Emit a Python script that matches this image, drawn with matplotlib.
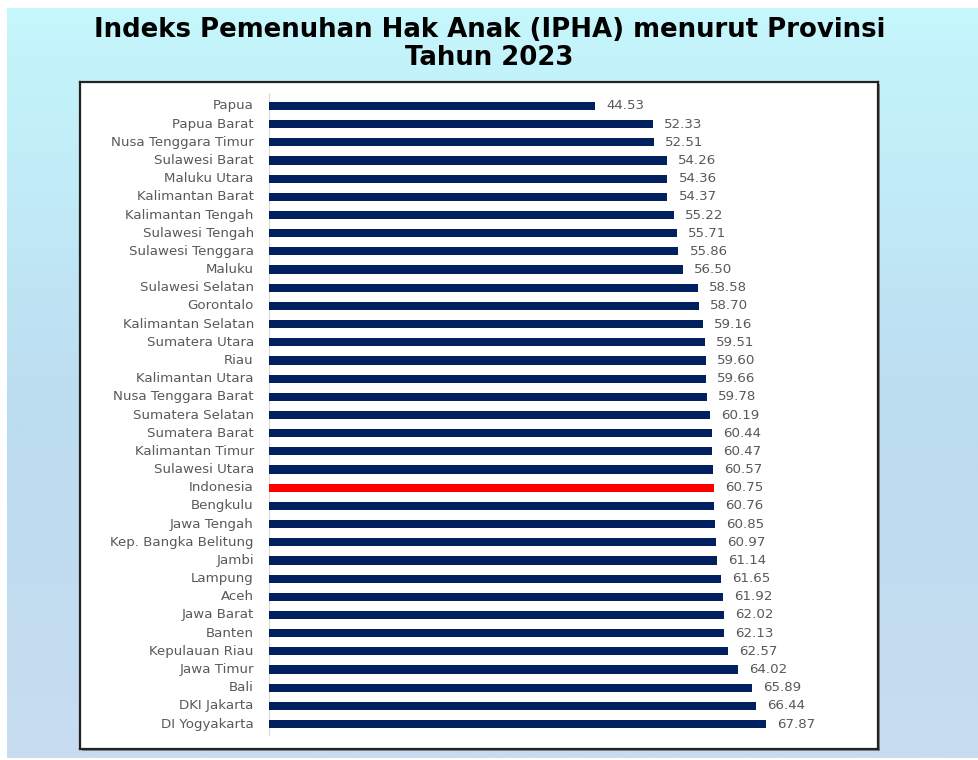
import numpy as np
import matplotlib
matplotlib.use("Agg")
import matplotlib.pyplot as plt
from matplotlib.patches import Rectangle

provinces = ["Papua", "Papua Barat", "Nusa Tenggara Timur", "Sulawesi Barat", "Maluku Utara",
             "Kalimantan Barat", "Kalimantan Tengah", "Sulawesi Tengah", "Sulawesi Tenggara", "Maluku",
             "Sulawesi Selatan", "Gorontalo", "Kalimantan Selatan", "Sumatera Utara", "Riau",
             "Kalimantan Utara", "Nusa Tenggara Barat", "Sumatera Selatan", "Sumatera Barat",
             "Kalimantan Timur", "Sulawesi Utara", "Indonesia", "Bengkulu", "Jawa Tengah",
             "Kep. Bangka Belitung", "Jambi", "Lampung", "Aceh", "Jawa Barat", "Banten",
             "Kepulauan Riau", "Jawa Timur", "Bali", "DKI Jakarta", "DI Yogyakarta"]
values = [44.53, 52.33, 52.51, 54.26, 54.36, 54.37, 55.22, 55.71, 55.86, 56.50,
          58.58, 58.70, 59.16, 59.51, 59.60, 59.66, 59.78, 60.19, 60.44, 60.47,
          60.57, 60.75, 60.76, 60.85, 60.97, 61.14, 61.65, 61.92, 62.02, 62.13,
          62.57, 64.02, 65.89, 66.44, 67.87]
title_lines = ["Indeks Pemenuhan Hak Anak (IPHA) menurut Provinsi", "Tahun 2023"]

W, H = 979, 760
fig = plt.figure(figsize=(W / 100, H / 100), dpi=100)
fig.patch.set_facecolor("white")

# gradient background (full-figure axes, bottom layer)
bg = fig.add_axes([0, 0, 1, 1], zorder=-5)
bg.set_axis_off()
top = np.array([197, 247, 252]) / 255
mid = np.array([188, 220, 240]) / 255
bot = np.array([200, 220, 240]) / 255
t = np.linspace(0, 1, 256)[:, None]
grad = np.where(t < 0.55, top + (mid - top) * (t / 0.55), mid + (bot - mid) * ((t - 0.55) / 0.45))
bg.imshow(grad[:, None, :], aspect="auto", extent=[7, W, 758, 8], origin="upper")
bg.set_xlim(0, W); bg.set_ylim(H, 0)

# box geometry (pixels)
ax_l, ax_r, ax_t, ax_b = 80, 878, 82, 749
# shadow of the chart box
bg.add_patch(Rectangle((ax_l + 2, ax_t + 2), ax_r - ax_l, ax_b - ax_t,
                       facecolor="#8c8c8c", edgecolor="none", zorder=3))

# title
fig.text(0.5, 1 - 30 / H, title_lines[0], ha="center", va="center",
         fontsize=18.7, fontweight="bold", family="DejaVu Sans", color="black")
fig.text(0.5, 1 - 58 / H, title_lines[1], ha="center", va="center",
         fontsize=18.7, fontweight="bold", family="DejaVu Sans", color="black")

ax = fig.add_axes([ax_l / W, 1 - ax_b / H, (ax_r - ax_l) / W, (ax_b - ax_t) / H], zorder=1)
ax.set_facecolor("white")
for s in ax.spines.values():
    s.set_color("#222222")
    s.set_linewidth(1.6)
ax.set_xticks([]); ax.set_yticks([])

y = np.arange(len(provinces))
colors = ["#ff0000" if p == "Indonesia" else "#002060" for p in provinces]
ax.barh(y, values, height=0.45, color=colors, zorder=2)
ax.set_xlim(-25.8, 83.1)
ax.set_ylim(len(provinces) - 1 + 1.375, -1.32)
ax.plot([0, 0], [-0.7, len(provinces) - 1 + 0.6], color="#d9d9d9", lw=0.8, zorder=1)

for yi, p, v in zip(y, provinces, values):
    ax.annotate(p, (0, yi), xytext=(-11, 0), textcoords="offset points", ha="right", va="center",
                fontsize=9.6, color="#595959")
    ax.annotate(f"{v:.2f}", (v, yi), xytext=(8, 0), textcoords="offset points", ha="left", va="center",
                fontsize=9.6, color="#595959")

fig.savefig("out.png", dpi=100, facecolor=fig.get_facecolor())
